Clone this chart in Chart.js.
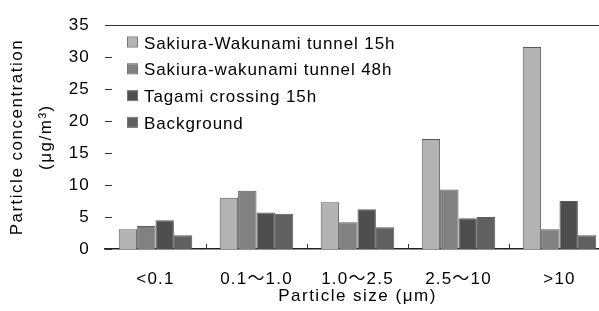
<!DOCTYPE html>
<html>
<head>
<meta charset="utf-8">
<script src="https://cdn.jsdelivr.net/npm/chart.js@4/dist/chart.umd.min.js"></script>
<style>
html,body{margin:0;padding:0;background:#fff;overflow:hidden;width:599px;height:311px;}
canvas{display:block;}
</style>
</head>
<body>
<canvas id="c" width="612" height="311"></canvas>
<script>
const categories = ['<0.1', '0.1\uFF5E1.0', '1.0\uFF5E2.5', '2.5\uFF5E10', '>10'];
const seriesNames = ['Sakiura-Wakunami tunnel 15h', 'Sakiura-wakunami tunnel 48h', 'Tagami crossing 15h', 'Background'];
const sakiura15h = [3.1, 8.0, 7.3, 17.2, 31.6];
const sakiura48h = [3.6, 9.1, 4.2, 9.3, 3.1];
const tagami15h = [4.5, 5.7, 6.2, 4.8, 7.5];
const background = [2.15, 5.5, 3.4, 5.0, 2.15];
const yTicks = [0, 5, 10, 15, 20, 25, 30, 35];
const colors = ['#b3b3b3', '#818181', '#4e4e4e', '#606060'];

const FONT = '"Liberation Sans", Arial, "Noto Sans CJK JP", sans-serif';
const seriesValues = [sakiura15h, sakiura48h, tagami15h, background];

const framePlugin = {
  id: 'frame',
  beforeDraw(chart) {
    chart.ctx.letterSpacing = '1.5px';
  },
  afterDatasetsDraw(chart) {
    const ctx = chart.ctx;
    const a = chart.chartArea;
    const xs = chart.scales.x, ys = chart.scales.y;
    ctx.save();
    ctx.strokeStyle = '#333';
    ctx.lineWidth = 1;
    // top border
    ctx.beginPath();
    ctx.moveTo(a.left, Math.round(a.top) + 0.5);
    ctx.lineTo(a.right, Math.round(a.top) + 0.5);
    ctx.stroke();
    // y ticks inside
    ys.ticks.forEach(t => {
      const y = Math.round(ys.getPixelForValue(t.value)) + 0.5;
      ctx.beginPath();
      ctx.moveTo(a.left, y);
      ctx.lineTo(a.left + 7, y);
      ctx.stroke();
    });
    // x ticks inside at category boundaries
    for (let i = 1; i < categories.length; i++) {
      const x = Math.round((xs.getPixelForValue(i - 1) + xs.getPixelForValue(i)) / 2) + 0.5;
      ctx.beginPath();
      ctx.moveTo(x, a.bottom);
      ctx.lineTo(x, a.bottom - 5);
      ctx.stroke();
    }
    // legend
    ctx.letterSpacing = '0.9px';
    ctx.font = '17px ' + FONT;
    ctx.textBaseline = 'alphabetic';
    ctx.textAlign = 'left';
    chart.data.datasets.forEach((ds, i) => {
      const base = 48.5 + i * 26.8;
      ctx.fillStyle = ds.backgroundColor;
      ctx.fillRect(128, base - 11, 9, 9);
      ctx.strokeStyle = '#777';
      ctx.strokeRect(127.5, base - 11.5, 10, 10);
      ctx.fillStyle = '#000';
      ctx.fillText(ds.label, 144, base);
    });
    ctx.restore();
    ctx.letterSpacing = '1.2px';
  }
};

new Chart(document.getElementById('c'), {
  type: 'bar',
  data: {
    labels: categories,
    datasets: seriesNames.map((name, i) => ({
      label: name,
      data: seriesValues[i],
      backgroundColor: colors[i],
      borderColor: '#5a5a5a',
      borderWidth: 1,
      categoryPercentage: 0.728,
      barPercentage: 1.0
    }))
  },
  options: {
    responsive: false,
    animation: false,
    devicePixelRatio: 1,
    layout: { padding: { top: 17, right: 2, bottom: 0, left: 0 } },
    plugins: { legend: { display: false }, tooltip: { enabled: false } },
    scales: {
      x: {
        grid: { display: false, drawTicks: false },
        border: { display: true, color: '#222', width: 1.5 },
        ticks: { z: 1, color: '#000', font: { family: FONT, size: 17 }, padding: 20, maxRotation: 0, autoSkip: false },
        title: { display: true, text: 'Particle size (\u03BCm)', color: '#000', font: { family: FONT, size: 17 }, padding: { top: 0, bottom: 4 } },
        afterFit(s) { s.height = 62; }
      },
      y: {
        min: 0, max: 35,
        afterBuildTicks(s) { s.ticks = yTicks.map(v => ({ value: v })); },
        grid: { display: false, drawTicks: false },
        border: { display: false },
        ticks: { z: 1, color: '#000', font: { family: FONT, size: 17 }, padding: 15 },
        title: { display: true, text: ['Particle concentration', '(\u03BCg/m\u00B3)'], color: '#000', font: { family: FONT, size: 17, lineHeight: 1.7 }, padding: { top: 3, bottom: 0 } },
        afterFit(s) { s.width = 105; }
      }
    }
  },
  plugins: [framePlugin]
});
</script>
</body>
</html>
